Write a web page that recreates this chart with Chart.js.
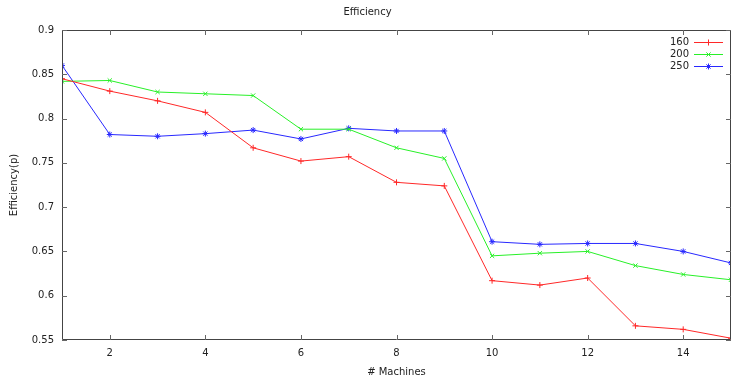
<!DOCTYPE html>
<html>
<head>
<meta charset="utf-8">
<script src="https://cdn.jsdelivr.net/npm/chart.js@4/dist/chart.umd.min.js"></script>
<style>
  html, body { margin: 0; padding: 0; background: #fff; }
  #wrap { width: 735px; height: 376px; }
</style>
</head>
<body>
<div id="wrap"><canvas id="eff"></canvas></div>
<script>
// machines on the x axis
var machines = [1, 2, 3, 4, 5, 6, 7, 8, 9, 10, 11, 12, 13, 14, 15];
var eff160 = [0.845, 0.831, 0.820, 0.807, 0.767, 0.752, 0.757, 0.728, 0.724, 0.617, 0.612, 0.620, 0.566, 0.562, 0.552];
var eff200 = [0.842, 0.843, 0.830, 0.828, 0.826, 0.788, 0.788, 0.767, 0.755, 0.645, 0.648, 0.650, 0.634, 0.624, 0.618];
var eff250 = [0.860, 0.782, 0.780, 0.783, 0.787, 0.777, 0.789, 0.786, 0.786, 0.661, 0.658, 0.659, 0.659, 0.650, 0.637];
var xTicks = [2, 4, 6, 8, 10, 12, 14];
var yTicks = [0.55, 0.6, 0.65, 0.7, 0.75, 0.8, 0.85, 0.9];

var FONT = "'DejaVu Sans', sans-serif";

function pts(ys) {
  return machines.map(function(m, i) { return {x: m, y: ys[i]}; });
}

function series(label, ys, color, style) {
  return {
    label: label,
    data: pts(ys),
    borderColor: color,
    backgroundColor: color,
    borderWidth: 1,
    pointStyle: style,
    pointRadius: 3,
    pointBorderWidth: 1,
    pointHoverRadius: 3,
    tension: 0
  };
}

// gnuplot style frame, inward ticks and the key in the top right corner
var frame = {
  id: 'frame',
  afterDatasetsDraw: function(chart) {
    var ctx = chart.ctx, a = chart.chartArea;
    var xs = chart.scales.x, ys = chart.scales.y;
    ctx.save();
    ctx.strokeStyle = '#444';
    ctx.lineWidth = 1;
    ctx.beginPath();
    ctx.moveTo(a.left + 0.5, a.top + 0.5);
    ctx.lineTo(a.right - 0.5, a.top + 0.5);
    ctx.lineTo(a.right - 0.5, a.bottom - 0.5);
    ctx.lineTo(a.left + 0.5, a.bottom - 0.5);
    ctx.closePath();
    ctx.stroke();
    ctx.strokeStyle = '#666';
    ctx.beginPath();
    xTicks.forEach(function(t) {
      var px = Math.round(xs.getPixelForValue(t)) + 0.5;
      ctx.moveTo(px, a.bottom); ctx.lineTo(px, a.bottom - 5);
      ctx.moveTo(px, a.top); ctx.lineTo(px, a.top + 5);
    });
    yTicks.forEach(function(t) {
      var py = Math.round(ys.getPixelForValue(t)) + 0.5;
      ctx.moveTo(a.left, py); ctx.lineTo(a.left + 5, py);
      ctx.moveTo(a.right, py); ctx.lineTo(a.right - 5, py);
    });
    ctx.stroke();

    // key
    ctx.font = '10px ' + FONT;
    ctx.textAlign = 'right';
    ctx.textBaseline = 'middle';
    chart.data.datasets.forEach(function(ds, i) {
      var y = 42 + i * 12.2;
      ctx.fillStyle = '#222';
      ctx.fillText(ds.label, 689, y);
      ctx.strokeStyle = ds.borderColor;
      ctx.beginPath();
      ctx.moveTo(694, Math.round(y) + 0.5);
      ctx.lineTo(723, Math.round(y) + 0.5);
      ctx.stroke();
      Chart.helpers.drawPoint(ctx, {
        pointStyle: ds.pointStyle, radius: 3, borderWidth: 1, rotation: 0
      }, 708.5, Math.round(y) + 0.5);
    });
    ctx.restore();
  }
};

new Chart(document.getElementById('eff'), {
  type: 'line',
  data: {
    datasets: [
      series('160', eff160, 'rgb(255,40,40)', 'cross'),
      series('200', eff200, 'rgb(40,240,40)', 'crossRot'),
      series('250', eff250, 'rgb(40,40,255)', 'star')
    ]
  },
  options: {
    responsive: true,
    maintainAspectRatio: false,
    animation: false,
    layout: { padding: { left: 0, right: 0, top: 0, bottom: 0 } },
    plugins: {
      legend: { display: false },
      tooltip: { enabled: false },
      title: {
        display: true,
        text: 'Efficiency',
        color: '#222',
        font: { family: FONT, size: 10, weight: 'normal' },
        padding: { top: 6, bottom: 12 }
      }
    },
    scales: {
      x: {
        type: 'linear',
        min: 1,
        max: 15,
        grid: { display: false, drawTicks: false },
        border: { display: false },
        afterBuildTicks: function(s) { s.ticks = xTicks.map(function(v) { return {value: v}; }); },
        afterFit: function(s) { s.height = 36; },
        ticks: { color: '#222', padding: 7, font: { family: FONT, size: 10 } },
        title: {
          display: true,
          text: '# Machines',
          color: '#222',
          font: { family: FONT, size: 10 },
          padding: { top: 0, bottom: -2 }
        }
      },
      y: {
        min: 0.55,
        max: 0.9,
        grid: { display: false, drawTicks: false },
        border: { display: false },
        afterBuildTicks: function(s) { s.ticks = yTicks.map(function(v) { return {value: v}; }); },
        afterFit: function(s) { s.width = 62; },
        ticks: {
          color: '#222',
          padding: 8,
          font: { family: FONT, size: 10 },
          callback: function(v) { return String(+v.toFixed(2)); }
        },
        title: {
          display: true,
          text: 'Efficiency(p)',
          color: '#222',
          font: { family: FONT, size: 10 },
          padding: { top: 8, bottom: 2 }
        }
      }
    }
  },
  plugins: [frame]
});
</script>
</body>
</html>
